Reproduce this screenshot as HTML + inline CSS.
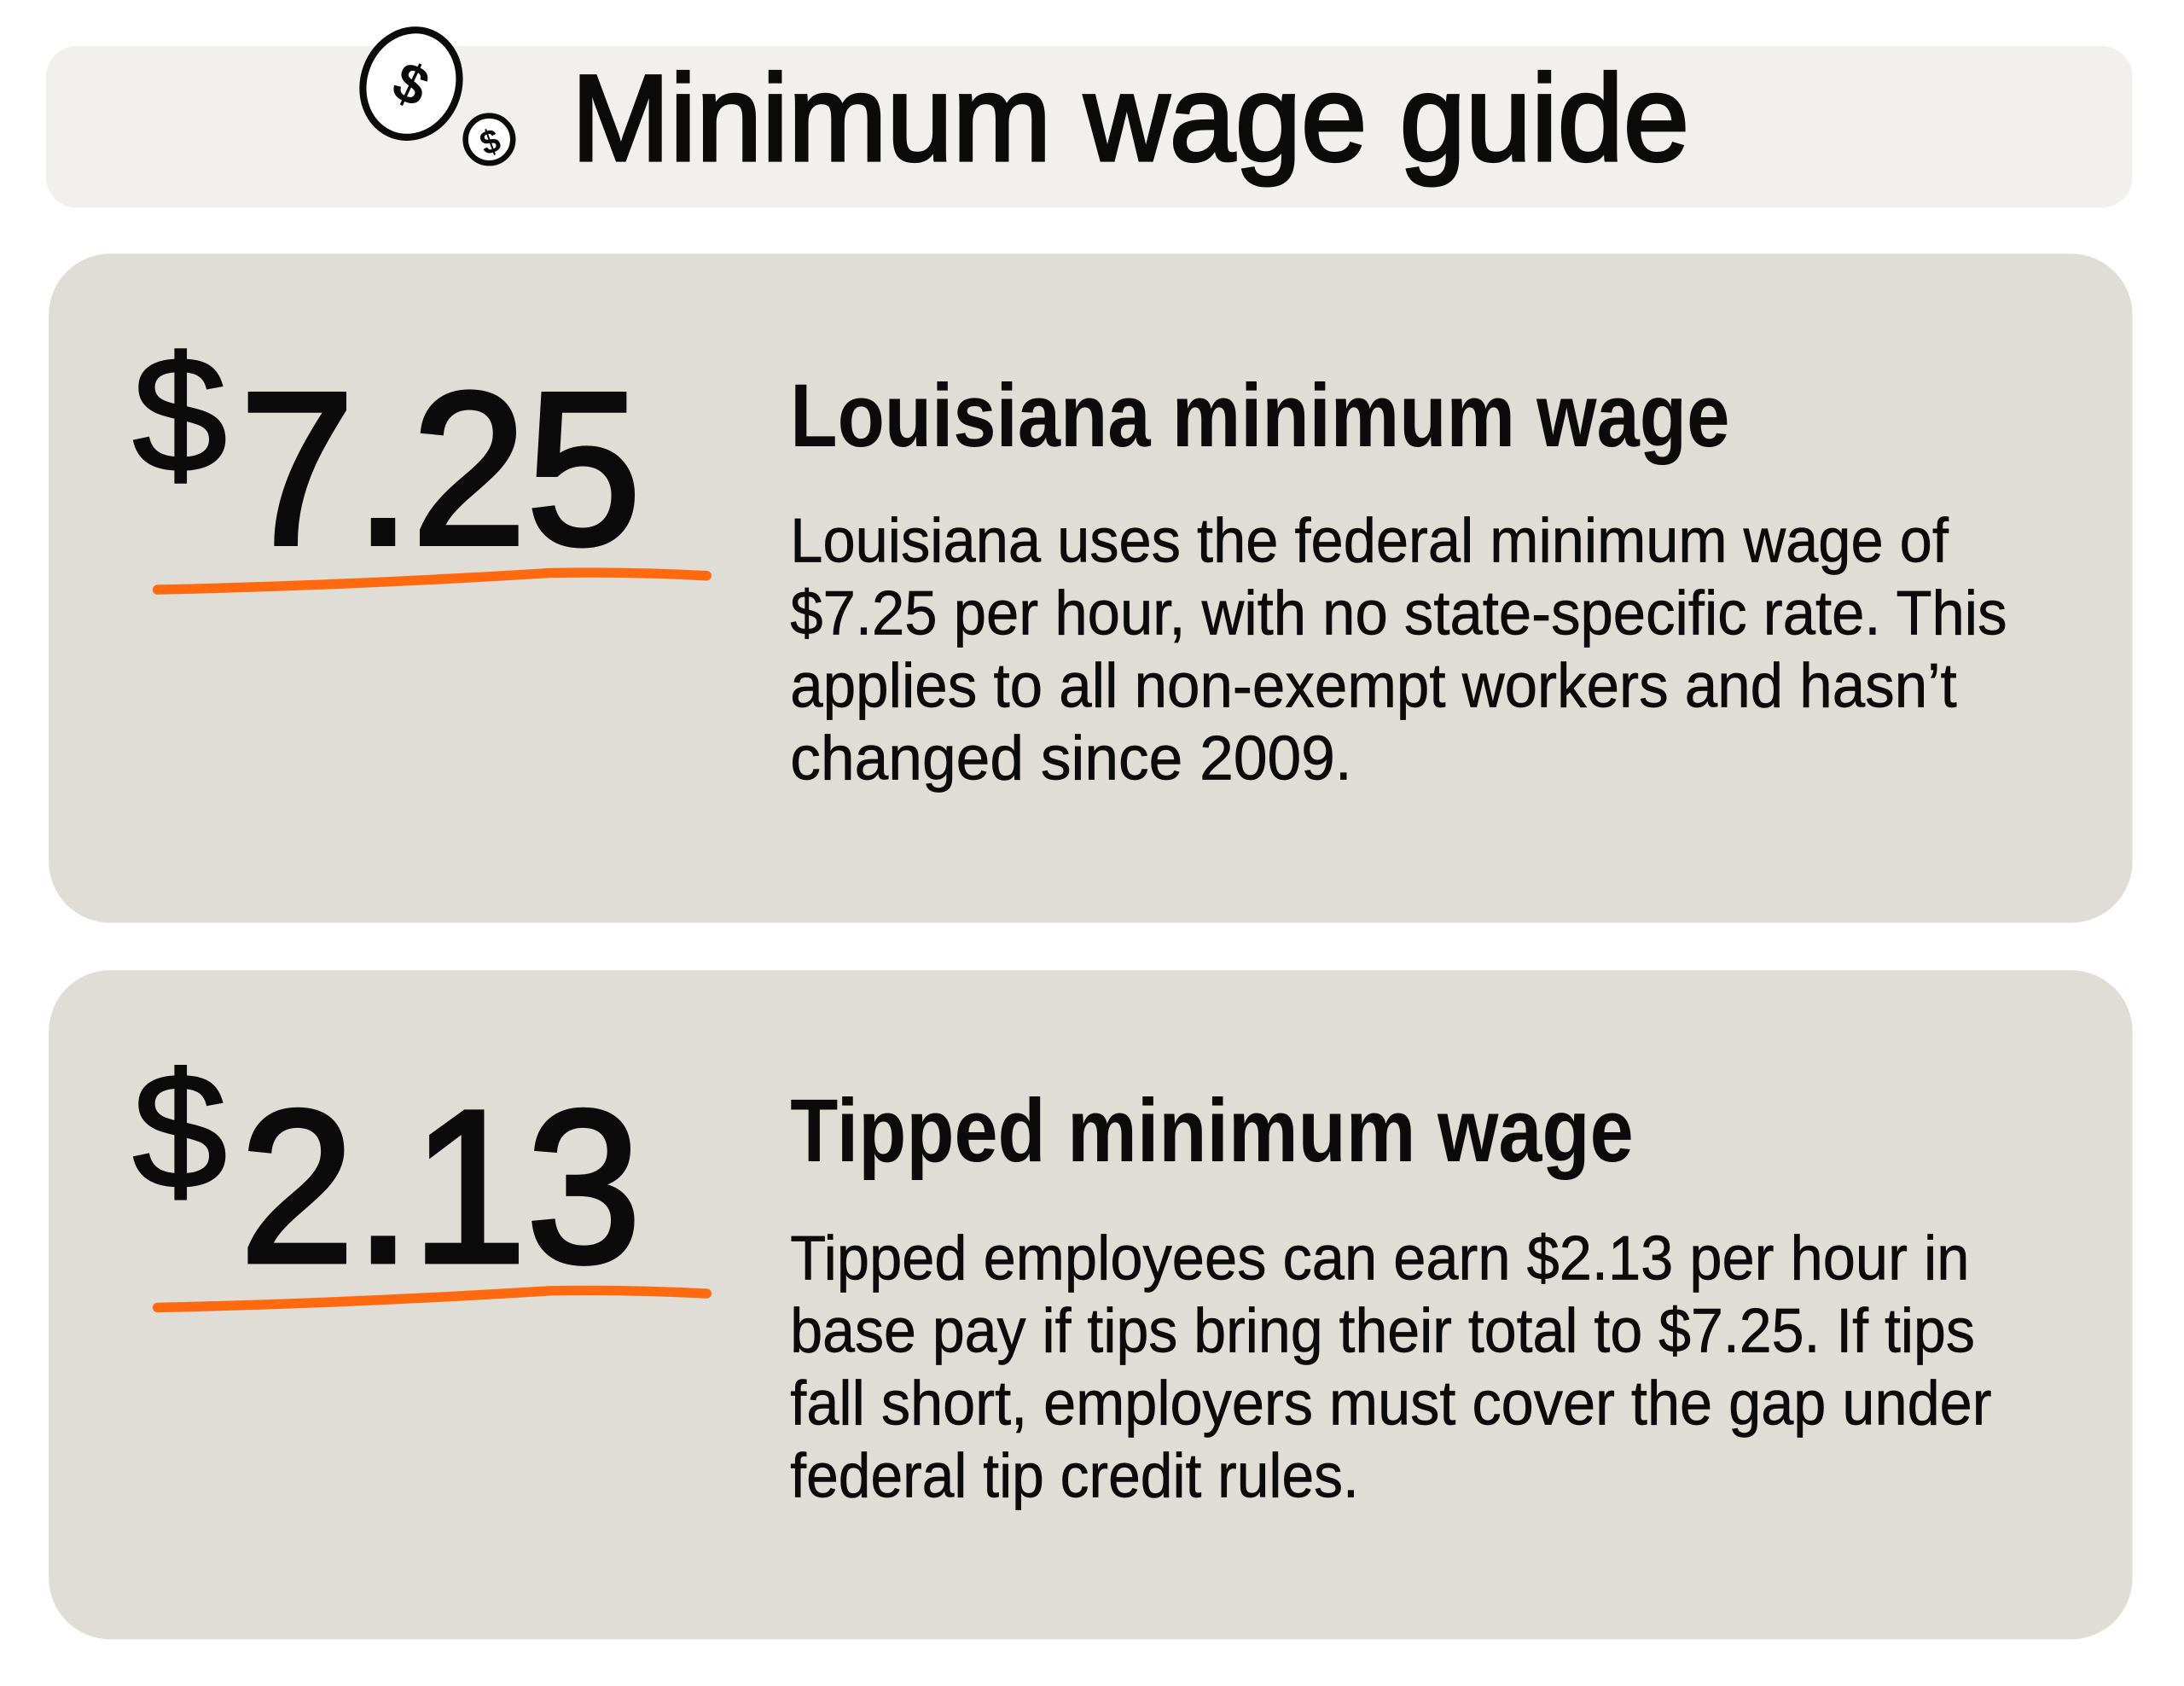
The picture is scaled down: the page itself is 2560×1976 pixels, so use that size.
<!DOCTYPE html>
<html><head><meta charset="utf-8"><style>
html,body{margin:0;padding:0;background:#fff;}
svg{display:block;}
text{font-family:"Liberation Sans",sans-serif;fill:#0b0b0b;}
</style></head><body>
<svg width="2560" height="1976" viewBox="0 0 1567 1209.5" xmlns="http://www.w3.org/2000/svg">
<rect x="0" y="0" width="1567" height="1209.5" fill="#ffffff"/>
<rect x="33" y="33" width="1497" height="116" rx="22" fill="#f1f0ec"/>
<rect x="35" y="182" width="1495" height="480" rx="44" fill="#e0ddd6"/>
<rect x="35" y="696" width="1495" height="480" rx="44" fill="#e0ddd6"/>
<!-- coins -->
<g transform="rotate(20 295 60)">
<ellipse cx="295" cy="60" rx="34" ry="39" fill="#fff" stroke="#0b0b0b" stroke-width="5"/>
</g>
<text x="295" y="74" font-size="40" font-weight="bold" text-anchor="middle" transform="rotate(25 295 60)">$</text>
<circle cx="351" cy="100" r="17" fill="#fff" stroke="#0b0b0b" stroke-width="4"/>
<text x="351" y="110" font-size="24" font-weight="bold" text-anchor="middle" transform="rotate(-20 351 100)">$</text>
<text x="410" y="115" font-size="88" textLength="802" lengthAdjust="spacingAndGlyphs" stroke="#0b0b0b" stroke-width="2.2">Minimum wage guide</text>
<!-- card 1 -->
<text x="95" y="338" font-size="118" textLength="68" lengthAdjust="spacingAndGlyphs" stroke="#0b0b0b" stroke-width="1.5">$</text>
<text x="172" y="390" font-size="156" textLength="288" lengthAdjust="spacingAndGlyphs" stroke="#0b0b0b" stroke-width="3.5">7.25</text>
<path d="M113 423 Q250 420 395 411 Q450 410 507 413" fill="none" stroke="#ff6a10" stroke-width="7" stroke-linecap="round"/>
<text x="567" y="320" font-size="64" font-weight="bold" textLength="674" lengthAdjust="spacingAndGlyphs">Louisiana minimum wage</text>
<g font-size="45" stroke="#0b0b0b" stroke-width="0.4">
<text x="567" y="403" textLength="831" lengthAdjust="spacingAndGlyphs">Louisiana uses the federal minimum wage of</text>
<text x="567" y="455" textLength="873" lengthAdjust="spacingAndGlyphs">$7.25 per hour, with no state-specific rate. This</text>
<text x="567" y="507" textLength="837" lengthAdjust="spacingAndGlyphs">applies to all non-exempt workers and hasn’t</text>
<text x="567" y="559" textLength="403" lengthAdjust="spacingAndGlyphs">changed since 2009.</text>
</g>
<!-- card 2 -->
<text x="95" y="852" font-size="118" textLength="68" lengthAdjust="spacingAndGlyphs" stroke="#0b0b0b" stroke-width="1.5">$</text>
<text x="172" y="905" font-size="156" textLength="288" lengthAdjust="spacingAndGlyphs" stroke="#0b0b0b" stroke-width="3.5">2.13</text>
<path d="M113 938 Q250 935 395 926 Q450 925 507 928" fill="none" stroke="#ff6a10" stroke-width="7" stroke-linecap="round"/>
<text x="567" y="833" font-size="64" font-weight="bold" textLength="605" lengthAdjust="spacingAndGlyphs">Tipped minimum wage</text>
<g font-size="45" stroke="#0b0b0b" stroke-width="0.4">
<text x="567" y="918" textLength="846" lengthAdjust="spacingAndGlyphs">Tipped employees can earn $2.13 per hour in</text>
<text x="567" y="970" textLength="850" lengthAdjust="spacingAndGlyphs">base pay if tips bring their total to $7.25. If tips</text>
<text x="567" y="1022" textLength="862" lengthAdjust="spacingAndGlyphs">fall short, employers must cover the gap under</text>
<text x="567" y="1074" textLength="408" lengthAdjust="spacingAndGlyphs">federal tip credit rules.</text>
</g>
</svg>
</body></html>
